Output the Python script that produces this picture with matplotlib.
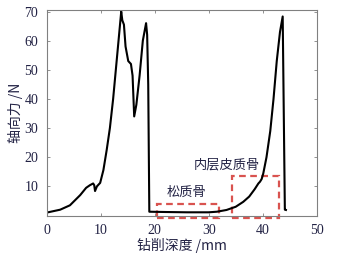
import matplotlib.pyplot as plt
from matplotlib.patches import Rectangle

# drilling depth (mm) and axial force (N)
depth = [0, 2.5, 4.3, 6.2, 7.3, 8.0, 8.6, 8.8, 8.95, 9.3, 9.9, 10.5, 11.1,
         11.7, 12.3, 12.8, 13.3, 13.8, 14.0, 14.3, 14.6, 15.1, 15.6, 15.9,
         16.2, 16.6, 17.2, 17.8, 18.2, 18.4, 18.6, 18.8, 19.0, 22, 26, 30,
         31.5, 33.3, 35, 36.4, 37.5, 38.5, 39.2, 39.5, 39.8, 40.1, 40.7,
         41.4, 42.0, 42.6, 43.2, 43.7, 44.1, 44.3]
force = [1.0, 2.0, 3.5, 7.0, 9.5, 10.4, 11.0, 10.4, 8.4, 10.0, 11.2, 15.6,
         22.4, 30, 40, 50, 60, 70, 67, 65.5, 58, 53, 52, 48, 34, 38, 48, 60,
         64, 66, 62, 45, 1.3, 1.2, 1.1, 1.1, 1.3, 1.9, 3.0, 4.7, 6.5, 9, 11,
         11.6, 12.5, 14.4, 20, 29, 40, 53, 63, 68.3, 2.0, 1.9]

# dashed boxes: (x0, y0, width, height) and their labels
boxes = [(20.4, -1.0, 11.5, 4.9), (34.4, -1.0, 8.7, 14.6)]
box_labels = ['松质骨', '内层皮质骨']
label_pos = [(25.9, 8.1), (33.3, 17.3)]

cjk = ['Noto Sans CJK SC', 'DejaVu Sans']
num_color = '#222244'

fig = plt.figure(figsize=(3.37, 2.58), dpi=100)
ax = fig.add_axes([0.1386, 0.1647, 0.8012, 0.7963])

ax.plot(depth, force, color='black', lw=1.5)

for (x0, y0, w, h) in boxes:
    r = Rectangle((x0, y0), w, h, fill=False, ls=(0, (3, 2)),
                  ec='#d9534f', lw=1.6, clip_on=False)
    ax.add_patch(r)
for txt, (tx, ty) in zip(box_labels, label_pos):
    ax.text(tx, ty, txt, ha='center', va='center', fontsize=9.5,
            family=cjk, color='#222244')

ax.set_xlim(0, 50)
ax.set_ylim(0, 70.5)
ax.set_xticks([0, 10, 20, 30, 40, 50])
ax.set_yticks([10, 20, 30, 40, 50, 60, 70])
ax.tick_params(direction='in', length=2.5, width=0.6, color='gray',
               top=True, right=True, labelsize=10, labelcolor=num_color,
               pad=6)
for lab in ax.get_xticklabels() + ax.get_yticklabels():
    lab.set_family('Liberation Serif')
for s in ax.spines.values():
    s.set_color('gray')
    s.set_linewidth(0.8)

ax.set_xlabel('钻削深度 /mm', fontsize=10, family=cjk, color=num_color,
              labelpad=1)
ax.set_ylabel('轴向力 /N', fontsize=10, family=cjk, color=num_color,
              labelpad=1)

fig.savefig('out.png', dpi=100)
